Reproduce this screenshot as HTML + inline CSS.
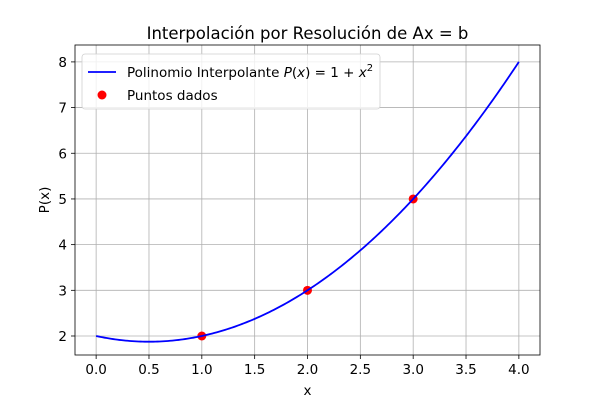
<!DOCTYPE html>
<html><head><meta charset="utf-8"><style>
body{margin:0;background:#fff;}
svg{display:block;font-family:"DejaVu Sans","Liberation Sans",sans-serif;}
</style></head><body>
<svg id="chart" width="600" height="400"></svg>
<script>
const pointsX=[1,2,3];
const pointsY=[2,3,5];
const xTicks=[0,0.5,1,1.5,2,2.5,3,3.5,4];
const xTickLabels=["0.0","0.5","1.0","1.5","2.0","2.5","3.0","3.5","4.0"];
const yTicks=[2,3,4,5,6,7,8];
const yTickLabels=["2","3","4","5","6","7","8"];
const curveRange=[0,4];
const L=75,R=540,T=45,B=355;
const xMin=-0.2,xMax=4.2,yMin=1.584,yMax=8.37;
const sx=v=>L+(v-xMin)/(xMax-xMin)*(R-L);
const sy=v=>B-(v-yMin)/(yMax-yMin)*(B-T);
function lag(x){let s=0;for(let i=0;i<pointsX.length;i++){let p=pointsY[i];for(let j=0;j<pointsX.length;j++)if(j!==i)p*=(x-pointsX[j])/(pointsX[i]-pointsX[j]);s+=p;}return s;}
const NS="http://www.w3.org/2000/svg";const svg=document.getElementById('chart');
function mk(t,a,txt){const e=document.createElementNS(NS,t);for(const k in a)e.setAttribute(k,a[k]);if(txt!==undefined)e.textContent=txt;svg.appendChild(e);return e;}
let e;
xTicks.forEach((v,i)=>{
e=mk('line',{x1:sx(v),x2:sx(v),y1:T,y2:B,stroke:'#b0b0b0','stroke-width':0.8});


mk('line',{x1:sx(v),x2:sx(v),y1:B,y2:B+4,stroke:'#000','stroke-width':0.8});
e=mk('text',{x:sx(v),y:B+19,'text-anchor':'middle','font-size':13.5},xTickLabels[i]);


});
yTicks.forEach((v,i)=>{
e=mk('line',{x1:L,x2:R,y1:sy(v),y2:sy(v),stroke:'#b0b0b0','stroke-width':0.8});


mk('line',{x1:L-4,x2:L,y1:sy(v),y2:sy(v),stroke:'#000','stroke-width':0.8});
e=mk('text',{x:L-8,y:sy(v)+5,'text-anchor':'end','font-size':13.5},yTickLabels[i]);


});
pointsX.forEach((x,i)=>{
e=mk('circle',{cx:sx(x),cy:sy(pointsY[i]),r:4.5,fill:'#ff0000'});


});
let d='';for(let k=0;k<=200;k++){const x=curveRange[0]+(curveRange[1]-curveRange[0])*k/200;d+=(k?'L':'M')+sx(x).toFixed(2)+','+sy(lag(x)).toFixed(2);}
e=mk('path',{d:d,fill:'none',stroke:'#0000ff','stroke-width':1.8});


e=mk('rect',{x:L,y:T,width:R-L,height:B-T,fill:'none',stroke:'#000','stroke-width':0.8});


e=mk('text',{x:(L+R)/2,y:39,'text-anchor':'middle','font-size':16.5},'Interpolación por Resolución de Ax = b');


e=mk('text',{x:(L+R)/2,y:395,'text-anchor':'middle','font-size':13.5},'x');


e=mk('text',{x:0,y:0,'text-anchor':'middle','font-size':13.5,transform:`translate(49,${(T+B)/2}) rotate(-90)`},'P(x)');


e=mk('rect',{x:82,y:54,width:298,height:55,rx:3,fill:'#fff','fill-opacity':0.8,stroke:'#d0d0d0','stroke-width':0.8});


mk('line',{x1:88,x2:116,y1:72,y2:72,stroke:'#0000ff','stroke-width':1.8});
e=mk('text',{x:127,y:77,'font-size':13.5});


e.innerHTML='Polinomio Interpolante <tspan font-style="italic">P</tspan>(<tspan font-style="italic">x</tspan>) = 1 + <tspan font-style="italic">x</tspan><tspan font-size="10" dy="-6">2</tspan>';
mk('circle',{cx:102,cy:95,r:4.5,fill:'#ff0000'});
e=mk('text',{x:127,y:100,'font-size':13.5},'Puntos dados');


</script>
</body></html>
